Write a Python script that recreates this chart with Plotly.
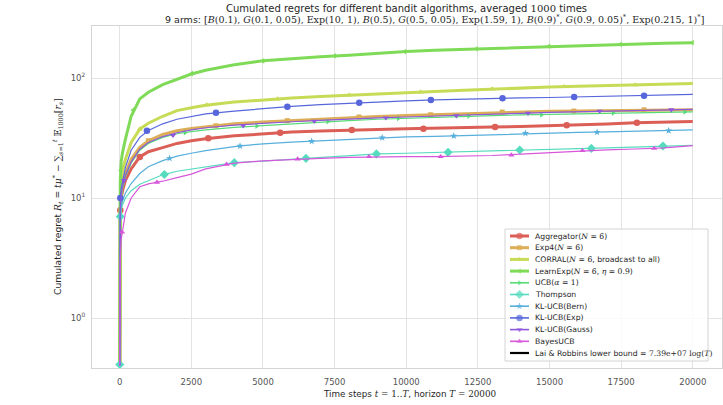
import plotly.graph_objects as go

# ---------------- data ----------------
T = [1, 20, 50, 100, 200, 400, 700, 1000, 1500, 2000, 2500, 3000, 4000, 5000, 6000,
     7000, 8000, 9000, 10000, 11000, 12000, 13000, 14000, 15000, 16000, 17000, 18000,
     19000, 20000]

aggregator = [0.4, 7.9, 10, 11.5, 14, 17.5, 22, 24.3, 26.3, 28.5, 30, 31.2, 33, 34.3, 35.4,
              36.2, 36.9, 37.3, 37.7, 38, 38.5, 39, 39.5, 40, 40.6, 41.3, 42.3, 42.9, 43.3]
exp4 = [0.4, 8, 11, 13, 16, 21, 26.5, 30, 33.8, 36.3, 38, 39.3, 41.5, 43, 44.3,
        45.5, 46.6, 47.8, 48.6, 49.5, 50.5, 51.5, 52.3, 52.8, 53.2, 53.7, 54.2, 54.3, 54.5]
corral = [0.4, 9, 14, 17, 21, 29, 37.5, 42, 48, 53.5, 56.5, 59.3, 63, 65.7, 68,
          70, 72, 73.8, 75.5, 77.3, 79, 81, 82.5, 84, 85.3, 86.4, 87.5, 88.8, 90]
learnexp = [0.4, 14, 20, 24, 31, 48, 67, 76, 88, 98, 108, 116, 129, 139, 145,
            150, 155, 161, 166, 170, 173, 177, 180, 184, 187, 190, 192, 195, 197]
ucb = [0.4, 7.5, 10, 12, 15, 19.5, 25, 28.5, 32, 34.3, 35.7, 37, 38.8, 40.2, 41.6,
       43, 44.2, 45.3, 46.2, 47.2, 48, 48.6, 49.2, 49.8, 50.3, 50.9, 51.4, 51.8, 52.3]
thompson = [0.41, 7, 8, 8.8, 10, 11.5, 13, 14, 15.6, 16.7, 17.4, 18.2, 19.7, 20.3, 21,
            21.6, 22.5, 23.3, 23.6, 23.9, 24.2, 24.6, 25.1, 25.4, 25.8, 26.2, 26.6, 27.1, 27.4]
klucb_bern = [0.4, 7, 8.5, 9.5, 11, 13.2, 16, 18.2, 20.5, 22.3, 23.6, 24.8, 26.8, 28.3, 29.2,
              30, 30.9, 31.7, 32.3, 32.6, 33.1, 33.9, 34.5, 34.9, 35.2, 35.5, 35.9, 36.3, 36.9]
klucb_exp = [0.4, 9.5, 12, 14, 18, 25, 32, 36.5, 41.5, 45.3, 48, 50.3, 53, 55.6, 58,
             60, 61.7, 63, 64.5, 65.8, 66.8, 67.5, 68.2, 68.8, 69.5, 70.3, 71, 72, 73]
klucb_gauss = [0.4, 8, 10.5, 12.5, 15.5, 20, 25.5, 29, 32.5, 35, 37, 38.5, 40.5, 42, 43.2,
               44.3, 45.6, 46.5, 47.3, 48, 48.8, 49.8, 50.8, 51.8, 52.5, 53.2, 53.8, 54.3, 54.8]
bayesucb = [0.4, 3, 4.5, 5.5, 7.5, 10, 12.4, 13.1, 13.8, 14.8, 15.8, 17.5, 19.5, 20.4, 21,
            21.4, 21.8, 22.1, 22.1, 22.1, 22.3, 22.6, 23.2, 23.9, 24.7, 25.2, 25.6, 26.2, 27.3]

# marker positions (time step, value)
aggregator_mk_t = [20, 700, 3090, 5600, 8100, 10600, 13100, 15600, 18050]
aggregator_mk_v = [7.9, 22, 31.4, 35, 36.9, 37.8, 39, 40.3, 42.4]
exp4_mk_t = [1000, 3360, 5850, 8350, 10850, 13350, 15850, 18300]
exp4_mk_v = [30, 40, 44.1, 47.3, 49.4, 52, 53, 54.3]
corral_mk_t = [700, 3040, 5510, 8010, 10500, 13000, 15500, 18000]
corral_mk_v = [37.5, 59.6, 66.8, 72, 76.4, 81, 84.7, 87.5]
learnexp_mk_t = [30, 464, 2511, 5000, 7510, 9950, 12450, 14980, 17475, 19990]
learnexp_mk_v = [17, 54, 109, 139, 153, 166, 175, 184, 191, 197]
ucb_mk_t = [2280, 4780, 7260, 9720, 12180, 14720, 17220, 19720]
ucb_mk_v = [35, 39.8, 43.3, 46, 48.2, 49.4, 51, 52.1]
thompson_mk_t = [1, 20, 1560, 4000, 6500, 8960, 11460, 13960, 16460, 18960]
thompson_mk_v = [0.41, 7, 15.7, 19.7, 21.4, 23.3, 24, 25.1, 25.9, 27.1]
klucb_bern_mk_t = [1740, 4200, 6700, 9160, 11660, 14160, 16660, 19160]
klucb_bern_mk_v = [21.4, 27.1, 29.7, 31.8, 32.9, 34.6, 35.3, 36.4]
klucb_exp_mk_t = [20, 950, 3360, 5850, 8360, 10860, 13360, 15860, 18300]
klucb_exp_mk_v = [10, 36.4, 51.4, 57.6, 62.2, 65.6, 67.7, 69.5, 71.2]
klucb_gauss_mk_t = [150, 1860, 4310, 6790, 9290, 11750, 14250, 16750, 19250]
klucb_gauss_mk_v = [14, 33.3, 40, 43.8, 46.6, 48.5, 51, 53, 54.5]
bayesucb_mk_t = [80, 1300, 3730, 6210, 8700, 11200, 13670, 16150, 18650]
bayesucb_mk_v = [5.2, 13.5, 19.1, 21.1, 22.1, 22.1, 22.8, 24.8, 25.9]

x_tick_vals = [0, 2500, 5000, 7500, 10000, 12500, 15000, 17500, 20000]
y_tick_vals = [1, 10, 100]
y_tick_text = ["10<sup>0</sup>", "10<sup>1</sup>", "10<sup>2</sup>"]


def M(s):
    return "<span style='font-family:DejaVu Serif'>" + s + "</span>"


names = [
    "Aggregator(" + M("<i>N</i> = 6") + ")",
    "Exp4(" + M("<i>N</i> = 6") + ")",
    "CORRAL(" + M("<i>N</i> = 6") + ", broadcast to all)",
    "LearnExp(" + M("<i>N</i> = 6") + ", " + M("<i>η</i> = 0.9") + ")",
    "UCB(" + M("<i>α</i> = 1") + ")",
    "Thompson",
    "KL-UCB(Bern)",
    "KL-UCB(Exp)",
    "KL-UCB(Gauss)",
    "BayesUCB",
]
bound_name = "Lai &amp; Robbins lower bound = " + M("7.39e+07 log(<i>T</i>)")

values = [aggregator, exp4, corral, learnexp, ucb, thompson, klucb_bern, klucb_exp,
          klucb_gauss, bayesucb]
mk_t = [aggregator_mk_t, exp4_mk_t, corral_mk_t, learnexp_mk_t, ucb_mk_t, thompson_mk_t,
        klucb_bern_mk_t, klucb_exp_mk_t, klucb_gauss_mk_t, bayesucb_mk_t]
mk_v = [aggregator_mk_v, exp4_mk_v, corral_mk_v, learnexp_mk_v, ucb_mk_v, thompson_mk_v,
        klucb_bern_mk_v, klucb_exp_mk_v, klucb_gauss_mk_v, bayesucb_mk_v]

# ---------------- styles ----------------
colors = ["#db5f57", "#dbae57", "#c7db57", "#7fdb57", "#57db77", "#57dbbf",
          "#57afdb", "#5767db", "#8f57db", "#d757db"]
symbols = ["circle", "square", "triangle-up", "triangle-left", "triangle-right",
           "diamond", "star", "circle", "triangle-down", "triangle-up"]
msizes = [6.5, 5, 5.5, 5, 5, 7, 5.5, 6.5, 5.5, 5.5]
lwidths = [3, 3, 3, 3, 1.2, 1.2, 1.2, 1.2, 1.2, 1.2]

W, H = 723, 405
L, R, TOP, B = 92, 1, 26, 37
PW, PH = W - L - R, H - TOP - B


def px(xp):
    return (xp - L) / PW


def py(yp):
    return (H - B - yp) / PH


FONT = "DejaVu Sans"
fig = go.Figure()

for i in range(len(names)):
    fig.add_trace(go.Scatter(x=T, y=values[i], mode="lines",
                             line=dict(color=colors[i], width=lwidths[i]),
                             showlegend=False, hoverinfo="skip"))
    fig.add_trace(go.Scatter(x=mk_t[i], y=mk_v[i], mode="markers",
                             marker=dict(color=colors[i], symbol=symbols[i], size=msizes[i],
                                         line=dict(width=0)),
                             showlegend=False, hoverinfo="skip", cliponaxis=False))

# ---------------- custom compact legend (overlay axes in plot fractions) ----------------
lg_left, lg_right, lg_top, lg_bottom = 505, 708, 229, 361
y0, dy = 236, 11.7
fig.add_trace(go.Scatter(
    x=[px(lg_left), px(lg_right), px(lg_right), px(lg_left), px(lg_left)],
    y=[py(lg_top), py(lg_top), py(lg_bottom), py(lg_bottom), py(lg_top)],
    xaxis="x2", yaxis="y2", mode="lines", fill="toself",
    fillcolor="rgba(255,255,255,0.82)", line=dict(color="#d4d4d4", width=1),
    showlegend=False, hoverinfo="skip"))
all_names = names + [bound_name]
for i, nm in enumerate(all_names):
    yy = py(y0 + i * dy)
    if i < len(names):
        col, sym, ms, lw = colors[i], symbols[i], msizes[i], max(lwidths[i], 1.6)
    else:
        col, sym, ms, lw = "#000000", "circle", 0, 2.2
    fig.add_trace(go.Scatter(
        x=[px(510), px(519.5), px(529)], y=[yy, yy, yy], xaxis="x2", yaxis="y2",
        mode="lines+markers", line=dict(color=col, width=lw),
        marker=dict(color=col, symbol=sym, size=[0, ms, 0], line=dict(width=0)),
        showlegend=False, hoverinfo="skip"))
    fig.add_annotation(x=px(533), y=yy, xref="paper", yref="paper", text=nm,
                       showarrow=False, xanchor="left", yanchor="middle",
                       font=dict(family=FONT, size=7.7, color="#262626"))

# ---------------- titles ----------------
fig.add_annotation(x=px(406), y=py(8), xref="paper", yref="paper", showarrow=False,
                   xanchor="center", yanchor="middle",
                   text="Cumulated regrets for different bandit algorithms, averaged "
                        + M("1000") + " times",
                   font=dict(family=FONT, size=10, color="#262626"))
fig.add_annotation(x=px(163), y=py(19.5), xref="paper", yref="paper", showarrow=False,
                   xanchor="left", yanchor="middle",
                   text="9 arms: " + M("[<i>B</i>(0.1), <i>G</i>(0.1, 0.05), Exp(10, 1), "
                                        "<i>B</i>(0.5), <i>G</i>(0.5, 0.05), Exp(1.59, 1), "
                                        "<i>B</i>(0.9)<sup>*</sup>, <i>G</i>(0.9, 0.05)<sup>*</sup>, "
                                        "Exp(0.215, 1)<sup>*</sup>]"),
                   font=dict(family=FONT, size=9.5, color="#262626"))
fig.add_annotation(x=px(410), y=py(394), xref="paper", yref="paper", showarrow=False,
                   xanchor="center", yanchor="middle",
                   text="Time steps " + M("<i>t</i> = 1..<i>T</i>") + ", horizon "
                        + M("<i>T</i> = 20000"),
                   font=dict(family=FONT, size=8.8, color="#262626"))
fig.add_annotation(x=px(58), y=0.5, xref="paper", yref="paper", showarrow=False,
                   textangle=-90, xanchor="center", yanchor="middle",
                   text="Cumulated regret " + M("<i>R<sub>t</sub></i> = <i>tμ</i><sup>*</sup> − "
                                                 "∑<sub><i>s</i>=1</sub><sup><i>t</i></sup> "
                                                 "𝔼<sub>1000</sub>[<i>r<sub>s</sub></i>]"),
                   font=dict(family=FONT, size=9.2, color="#262626"))

fig.update_layout(
    width=W, height=H,
    margin=dict(l=L, r=R, t=TOP, b=B, pad=0),
    paper_bgcolor="white", plot_bgcolor="white",
    showlegend=False,
    font=dict(family=FONT, size=9, color="#555555"),
    xaxis=dict(range=[-967, 21020], tickvals=x_tick_vals, tickformat="d",
               showgrid=True, gridcolor="#e3e3e3", gridwidth=1, zeroline=False,
               showline=True, linecolor="#d4d4d4", linewidth=1, mirror=True,
               ticks="", ticklabelstandoff=6,
               tickfont=dict(family=FONT, size=8.5, color="#555555")),
    yaxis=dict(type="log", range=[-0.4167, 2.4333], tickvals=y_tick_vals,
               ticktext=y_tick_text, showgrid=True, gridcolor="#e3e3e3", gridwidth=1,
               zeroline=False, showline=True, linecolor="#d4d4d4", linewidth=1, mirror=True,
               ticks="", ticklabelstandoff=4,
               tickfont=dict(family=FONT, size=8.5, color="#555555")),
    xaxis2=dict(overlaying="x", anchor="y2", range=[0, 1], visible=False),
    yaxis2=dict(overlaying="y", anchor="x2", range=[0, 1], visible=False),
)

fig.write_html("out.html")
